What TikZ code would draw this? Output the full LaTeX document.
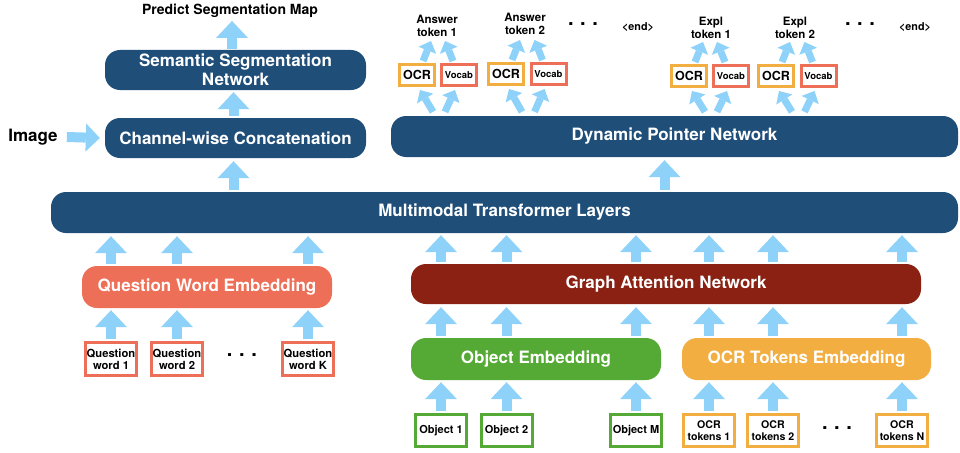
\documentclass[tikz,border=0pt]{standalone}
\usepackage{fontspec}
\setmainfont{TeX Gyre Heros}
\usetikzlibrary{arrows.meta,calc}
\definecolor{dblue}{HTML}{1F4E79}
\definecolor{ablue}{HTML}{8ED2FA}
\definecolor{salmon}{HTML}{EE6F57}
\definecolor{dred}{HTML}{8A2113}
\definecolor{egreen}{HTML}{55A935}
\definecolor{eorange}{HTML}{F2AE40}
\begin{document}
\begin{tikzpicture}[x=1pt,y=-1pt,
  big/.style={rounded corners=15pt, text=white, font=\bfseries\fontsize{17}{19}\selectfont, align=center, inner sep=0pt},
  sbox/.style={draw, line width=3pt, fill=white, inner sep=0pt, align=center},
  lbl/.style={inner sep=0pt, align=center},
  dots/.style={inner sep=0pt, font=\bfseries\fontsize{20}{20}\selectfont},
  barrow/.style={draw=ablue, line width=10pt, -{Triangle[width=32pt,length=17pt,line width=0pt]}},
  darrow/.style={draw=ablue, line width=7pt, -{Triangle[width=19pt,length=10pt,line width=0pt]}}
]
\useasboundingbox (0,0) rectangle (960,452);

% big boxes
\node[big, fill=dblue, minimum width=261pt, minimum height=40pt] (ssn) at (235.5,70) {Semantic Segmentation\\Network};
\node[big, fill=dblue, minimum width=261pt, minimum height=40pt] (cwc) at (235.5,138) {Channel-wise Concatenation};
\node[big, fill=dblue, minimum width=907pt, minimum height=41pt] (mmt) at (504.5,212.5) {Multimodal Transformer Layers};
\node[big, fill=dblue, minimum width=567pt, minimum height=41pt] (dpn) at (674.5,136.5) {Dynamic Pointer Network};
\node[big, fill=salmon, minimum width=250pt, minimum height=42pt] (qwe) at (207,287) {Question Word Embedding};
\node[big, fill=dred, minimum width=510pt, minimum height=40pt] (gat) at (666,284) {Graph Attention Network};
\node[big, fill=egreen, minimum width=250pt, minimum height=42pt] (obe) at (536,359) {Object Embedding};
\node[big, fill=eorange, minimum width=249pt, minimum height=42pt] (ocre) at (806.5,359) {OCR Tokens Embedding};

% labels
\node[lbl, font=\bfseries\fontsize{17}{19}\selectfont] (img) at (33,137) {Image};
\node[lbl, font=\bfseries\fontsize{14}{16}\selectfont] (pred) at (230,11) {Predict Segmentation Map};

% question word boxes
\begin{scope}[every node/.append style={sbox, draw=salmon, minimum width=51pt, minimum height=33pt, font=\bfseries\fontsize{11.2}{12}\selectfont}]
\node (qw1) at (111,359) {Question\\word 1};
\node (qw2) at (177,359) {Question\\word 2};
\node (qwK) at (308,359) {Question\\word K};
\end{scope}
\node[dots] (dq) at (242,355) {.\,\,.\,\,.};

% object boxes
\begin{scope}[every node/.append style={sbox, draw=egreen, minimum width=51pt, minimum height=32pt, font=\bfseries\fontsize{11}{12}\selectfont}]
\node (ob1) at (441,430.5) {Object 1};
\node (ob2) at (506.5,430.5) {Object 2};
\node (obM) at (636,430.5) {Object M};
\end{scope}
\begin{scope}[every node/.append style={sbox, draw=eorange, minimum width=51pt, minimum height=32pt, font=\bfseries\fontsize{10.6}{11.8}\selectfont}]
\node (oc1) at (709,430.5) {OCR\\tokens 1};
\node (oc2) at (773,430.5) {OCR\\tokens 2};
\node (ocN) at (902,430.5) {OCR\\tokens N};
\end{scope}
\node[dots] (dob) at (837,428) {.\,\,.\,\,.};

% top OCR / Vocab boxes
\begin{scope}[every node/.append style={sbox, minimum width=35pt, minimum height=21pt}]
\node[draw=eorange, font=\bfseries\fontsize{12.5}{14}\selectfont] (ocrA) at (417,75) {OCR};
\node[draw=salmon, font=\bfseries\fontsize{9.5}{11}\selectfont] (vocA) at (459,75) {Vocab};
\node[draw=eorange, font=\bfseries\fontsize{12.5}{14}\selectfont] (ocrB) at (506,74) {OCR};
\node[draw=salmon, font=\bfseries\fontsize{9.5}{11}\selectfont] (vocB) at (548.5,74) {Vocab};
\node[draw=eorange, font=\bfseries\fontsize{12.5}{14}\selectfont] (ocrC) at (689,76) {OCR};
\node[draw=salmon, font=\bfseries\fontsize{9.5}{11}\selectfont] (vocC) at (731,76) {Vocab};
\node[draw=eorange, font=\bfseries\fontsize{12.5}{14}\selectfont] (ocrD) at (776,76) {OCR};
\node[draw=salmon, font=\bfseries\fontsize{9.5}{11}\selectfont] (vocD) at (818.5,76) {Vocab};
\end{scope}

% output tokens
\begin{scope}[every node/.append style={lbl, font=\bfseries\fontsize{11.5}{13}\selectfont}]
\node (ans1) at (437,26) {Answer\\token 1};
\node (ans2) at (525,23.5) {Answer\\token 2};
\node (exp1) at (711,28) {Expl\\token 1};
\node (exp2) at (795,28) {Expl\\token 2};
\end{scope}
\node[lbl, font=\bfseries\fontsize{10.8}{12}\selectfont] (end1) at (638,27) {<end>};
\node[lbl, font=\bfseries\fontsize{10.8}{12}\selectfont] (end2) at (915,27) {<end>};
\node[dots] (da) at (583,24) {.\,\,.\,\,.};
\node[dots] (de) at (860,24) {.\,\,.\,\,.};

% arrows: left column
\draw[barrow] ($(ssn.north -| pred.south)+(2,-1)$) -- ($(pred.south)+(2,3)$);
\draw[barrow] ($(cwc.north)+(-2,-2)$) -- ($(ssn.south)+(-2,2)$);
\draw[barrow] ($(mmt.north -| cwc.south)+(-2,-2)$) -- ($(cwc.south)+(-2,3)$);
\draw[draw=ablue, line width=10pt, -{Triangle[width=28pt,length=14pt,line width=0pt]}] ($(img.east)+(9,0)$) -- ($(cwc.west)+(-5,0)$);
\draw[barrow] ($(mmt.north -| dpn.south)+(-10,-2)$) -- ($(dpn.south)+(-10,3)$);

% question words
\foreach \q in {qw1,qw2,qwK}{
  \draw[barrow] ($(\q.north)+(0,-2)$) -- ($(qwe.south -| \q.north)+(0,2)$);
  \draw[barrow] ($(qwe.north -| \q.north)+(0,-2)$) -- ($(mmt.south -| \q.north)+(0,3)$);
}
% objects and ocr tokens
\foreach \o in {ob1,ob2,obM,oc1,oc2,ocN}{
  \draw[barrow] ($(\o.north)+(0,-2)$) -- ($(obe.south -| \o.north)+(0,2)$);
  \draw[barrow] ($(obe.north -| \o.north)+(0,-2)$) -- ($(gat.south -| \o.north)+(0,3)$);
  \draw[barrow] ($(gat.north -| \o.north)+(0,-2)$) -- ($(mmt.south -| \o.north)+(0,2)$);
}
% pointer outputs
\foreach \o/\v in {ocrA/vocA,ocrB/vocB,ocrC/vocC,ocrD/vocD}{
  \draw[darrow] ($(\o.north)+(6,-2)$) -- ($(\o.north)+(14,-22)$);
  \draw[darrow] ($(\v.north)+(-6,-2)$) -- ($(\v.north)+(-14,-22)$);
  \draw[darrow] ($(\o.south |- dpn.north)+(16,-4)$) -- ($(\o.south)+(3,3)$);
  \draw[darrow] ($(\v.south |- dpn.north)+(-14,-4)$) -- ($(\v.south)+(-4,3)$);
}
\end{tikzpicture}
\end{document}
